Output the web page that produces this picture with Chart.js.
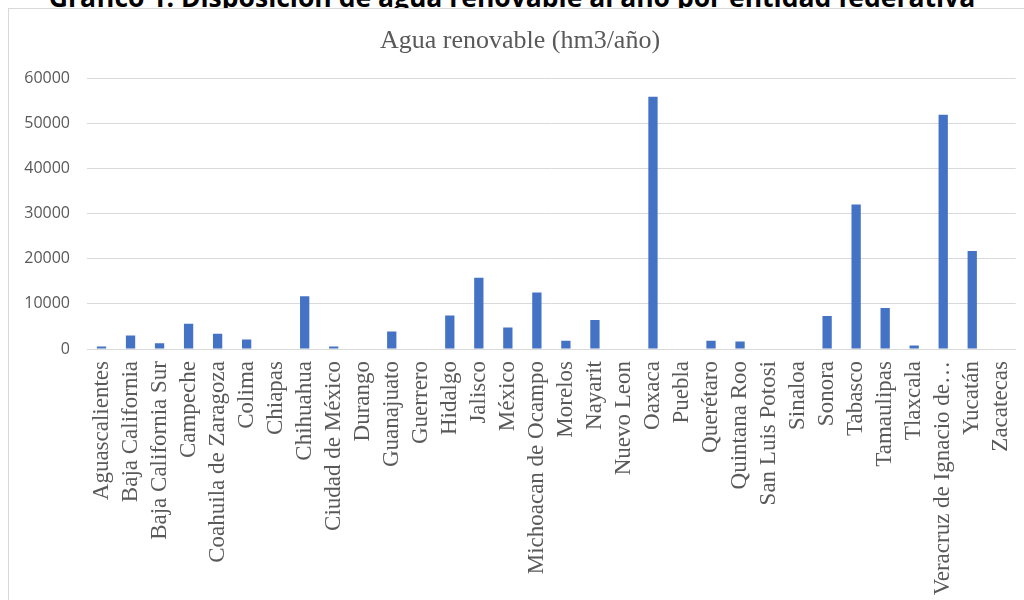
<!DOCTYPE html>
<html>
<head>
<meta charset="utf-8">
<script src="https://cdn.jsdelivr.net/npm/chart.js@4"></script>
<style>
    body { margin: 0; background: #fff; width: 1024px; height: 600px; overflow: hidden; position: relative; }
    #encabezado {
        position: absolute; left: 0; width: 1024px; top: -16px; text-align: center; white-space: nowrap;
        font-family: "Open Sans", sans-serif; font-weight: bold; font-size: 26.5px; line-height: 1; color: #000;
    }
    #caja {
        position: absolute; left: 8px; top: 8px; width: 1040px; height: 620px;
        border: 1px solid #d9d9d9; background: #fff;
    }
    #lienzo { position: absolute; left: 8px; top: 8px; width: 1033px; height: 592px; }
</style>
</head>
<body>
<div id="encabezado">Gráfico 1. Disposición de agua renovable al año por entidad federativa</div>
<div id="caja"></div>
<div id="lienzo"><canvas id="grafico"></canvas></div>

<script>
const categorias = [
    "Aguascalientes", "Baja California", "Baja California Sur", "Campeche",
    "Coahuila de Zaragoza", "Colima", "Chiapas", "Chihuahua", "Ciudad de México",
    "Durango", "Guanajuato", "Guerrero", "Hidalgo", "Jalisco", "México",
    "Michoacan de Ocampo", "Morelos", "Nayarit", "Nuevo Leon", "Oaxaca", "Puebla",
    "Querétaro", "Quintana Roo", "San Luis Potosi", "Sinaloa", "Sonora", "Tabasco",
    "Tamaulipas", "Tlaxcala", "Veracruz de Ignacio de…", "Yucatán", "Zacatecas"
]

// hm3/año
const aguaRenovable = [
    550, 3000, 1250, 5600,
    3400, 2100, 0, 11700, 530,
    0, 3850, 0, 7400, 15800, 4750,
    12500, 1850, 6450, 0, 55900, 0,
    1850, 1650, 0, 0, 7300, 32000,
    9100, 800, 51900, 21700, 0
]

const ticksY = [0, 10000, 20000, 30000, 40000, 50000, 60000]

const gris = "#595959"

new Chart(document.getElementById("grafico"), {
    type: "bar",
    data: {
        labels: categorias,
        datasets: [{
            data: aguaRenovable,
            backgroundColor: "#4472C4",
            categoryPercentage: 1,
            barPercentage: 0.32
        }]
    },
    options: {
        responsive: true,
        maintainAspectRatio: false,
        animation: false,
        layout: { padding: { left: 0, right: 9, top: 0, bottom: 0 } },
        plugins: {
            legend: { display: false },
            tooltip: { enabled: false },
            title: {
                display: true,
                text: "Agua renovable (hm3/año)",
                color: gris,
                font: { family: "Liberation Serif", size: 26, weight: "normal" },
                padding: { top: 18, bottom: 21 }
            }
        },
        scales: {
            x: {
                grid: { display: false, drawTicks: false },
                border: { color: "#d9d9d9" },
                ticks: {
                    color: gris,
                    autoSkip: false,
                    minRotation: 90,
                    maxRotation: 90,
                    padding: 12,
                    font: { family: "Liberation Serif", size: 23 }
                },
                afterFit: (scale) => { scale.height = 251 }
            },
            y: {
                min: 0,
                max: 60000,
                afterBuildTicks: (scale) => { scale.ticks = ticksY.map(v => ({ value: v })) },
                grid: { color: "#d9d9d9", drawTicks: false },
                border: { display: false },
                ticks: {
                    color: gris,
                    padding: 17,
                    font: { family: "Open Sans", size: 16 },
                    callback: (v) => String(v)
                },
                afterFit: (scale) => { scale.width = 79 }
            }
        }
    }
})
</script>
</body>
</html>
